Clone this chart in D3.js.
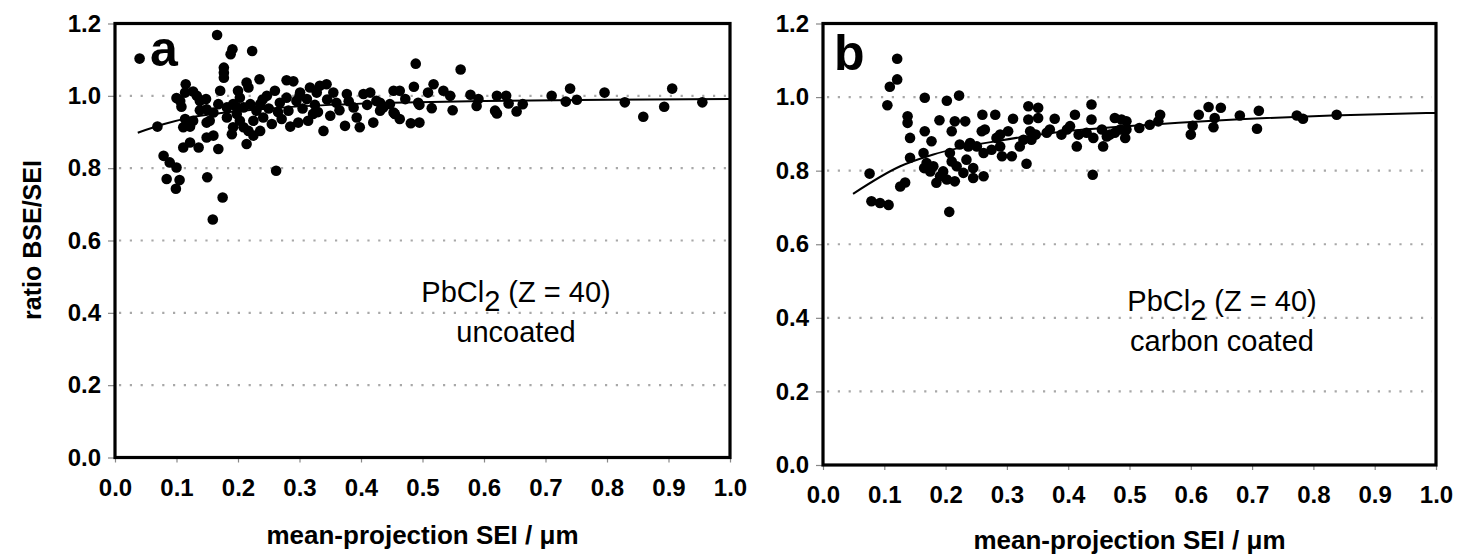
<!DOCTYPE html>
<html>
<head>
<meta charset="utf-8">
<script src="https://cdn.jsdelivr.net/npm/d3@7"></script>
<style>
  body { margin: 0; background: #fff; }
  svg { font-family: "Liberation Sans", Arial, sans-serif; }
</style>
</head>
<body>
<svg id="chart" width="1460" height="558"></svg>
<script>
// tick values shared by both panels
const xTicks = [0, 0.1, 0.2, 0.3, 0.4, 0.5, 0.6, 0.7, 0.8, 0.9, 1.0];
const yTicks = [0, 0.2, 0.4, 0.6, 0.8, 1.0, 1.2];
const gridValues = [0.2, 0.4, 0.6, 0.8, 1.0];

// panel a : uncoated PbCl2 (x = mean-projection SEI, y = BSE/SEI)
const pointsA = [
  [0.040,1.103],[0.166,1.168],[0.191,1.129],[0.188,1.115],[0.223,1.124],[0.177,1.078],[0.177,1.064],
  [0.177,1.050],[0.171,1.014],[0.115,1.032],[0.100,0.994],[0.127,1.012],[0.148,0.991],[0.108,0.970],
  [0.138,0.960],[0.069,0.915],[0.111,0.913],[0.122,0.915],[0.149,0.926],[0.111,0.857],[0.122,0.871],
  [0.136,0.857],[0.149,0.885],[0.160,0.890],[0.168,0.853],[0.168,0.977],[0.182,0.940],[0.079,0.834],
  [0.089,0.816],[0.100,0.802],[0.084,0.770],[0.105,0.767],[0.099,0.743],[0.150,0.775],[0.175,0.719],
  [0.159,0.658],[0.262,0.793],[0.214,1.037],[0.217,1.023],[0.235,1.046],[0.200,1.014],[0.203,0.995],
  [0.197,0.970],[0.214,0.867],[0.279,1.043],[0.271,0.936],[0.339,0.903],[0.374,0.917],[0.398,0.913],
  [0.420,0.926],[0.453,0.954],[0.247,1.000],[0.260,1.014],[0.268,0.981],[0.279,0.995],[0.295,0.986],
  [0.301,1.009],[0.312,0.991],[0.317,1.023],[0.328,1.009],[0.333,1.028],[0.344,1.032],[0.355,1.009],
  [0.360,0.981],[0.377,1.005],[0.388,0.968],[0.404,1.005],[0.415,1.009],[0.425,0.986],[0.436,0.968],
  [0.453,1.014],[0.455,0.950],[0.255,0.922],[0.282,0.959],[0.298,0.926],[0.314,0.931],[0.322,0.950],
  [0.350,0.945],[0.393,0.940],[0.431,0.959],[0.447,0.977],[0.192,0.977],[0.198,0.950],[0.203,0.931],
  [0.192,0.913],[0.209,0.913],[0.217,0.903],[0.225,0.931],[0.230,0.959],[0.236,0.977],[0.241,0.940],
  [0.182,0.968],[0.190,0.894],[0.225,0.890],[0.236,0.903],[0.209,0.968],[0.220,0.977],[0.106,0.986],
  [0.133,1.000],[0.114,1.009],[0.138,0.986],[0.149,0.963],[0.160,0.954],[0.154,0.931],[0.114,0.936],
  [0.127,0.931],[0.489,1.089],[0.562,1.073],[0.463,1.014],[0.486,1.025],[0.518,1.032],[0.509,1.009],
  [0.534,1.014],[0.545,1.000],[0.495,0.975],[0.515,0.966],[0.549,0.960],[0.463,0.936],[0.481,0.924],
  [0.495,0.926],[0.578,1.003],[0.591,0.991],[0.588,0.972],[0.621,1.000],[0.636,1.000],[0.640,0.979],
  [0.618,0.959],[0.621,0.951],[0.653,0.957],[0.663,0.977],[0.710,1.000],[0.740,1.020],[0.733,0.984],
  [0.751,0.989],[0.796,1.009],[0.829,0.982],[0.859,0.942],[0.893,0.970],[0.906,1.020],[0.955,0.982],
  [0.472,0.991],[0.431,0.981],[0.493,0.981],[0.290,1.040],[0.305,0.965],[0.345,0.990],[0.365,0.960],
  [0.380,0.985],[0.410,0.975],[0.265,0.955],[0.250,0.965],[0.330,0.955],[0.300,1.000],[0.240,0.990],
  [0.285,0.915],[0.325,0.975]
];
const fitA = [
  [0.037,0.898],[0.08,0.922],[0.12,0.939],[0.17,0.952],[0.25,0.965],[0.35,0.975],
  [0.45,0.981],[0.6,0.986],[0.8,0.989],[1.0,0.991]
];

// panel b : carbon coated PbCl2
const pointsB = [
  [0.121,1.104],[0.121,1.048],[0.109,1.028],[0.105,0.978],[0.076,0.792],[0.079,0.717],[0.093,0.712],
  [0.107,0.707],[0.126,0.757],[0.134,0.768],[0.138,0.948],[0.138,0.930],[0.142,0.889],[0.142,0.835],
  [0.166,0.998],[0.166,0.907],[0.164,0.848],[0.177,0.880],[0.165,0.807],[0.175,0.798],[0.185,0.767],
  [0.191,0.785],[0.202,0.776],[0.215,0.771],[0.169,0.821],[0.206,0.688],[0.202,0.990],[0.222,1.004],
  [0.190,0.937],[0.215,0.934],[0.232,0.934],[0.210,0.907],[0.223,0.871],[0.207,0.848],[0.210,0.825],
  [0.229,0.794],[0.245,0.780],[0.262,0.785],[0.245,0.807],[0.260,0.952],[0.281,0.952],[0.259,0.907],
  [0.264,0.912],[0.237,0.866],[0.251,0.866],[0.262,0.848],[0.275,0.857],[0.283,0.889],[0.289,0.898],
  [0.292,0.839],[0.308,0.839],[0.310,0.941],[0.302,0.907],[0.321,0.866],[0.327,0.884],[0.332,0.819],
  [0.335,0.975],[0.351,0.971],[0.335,0.939],[0.351,0.943],[0.338,0.907],[0.347,0.898],[0.340,0.884],
  [0.365,0.903],[0.370,0.912],[0.378,0.941],[0.389,0.898],[0.398,0.912],[0.403,0.921],[0.411,0.952],
  [0.417,0.898],[0.430,0.903],[0.441,0.889],[0.414,0.866],[0.438,0.980],[0.438,0.939],[0.440,0.789],
  [0.455,0.912],[0.457,0.866],[0.468,0.898],[0.476,0.943],[0.487,0.939],[0.495,0.912],[0.463,0.893],
  [0.485,0.912],[0.493,0.889],[0.476,0.903],[0.495,0.934],[0.516,0.916],[0.533,0.925],[0.550,0.952],
  [0.547,0.934],[0.600,0.898],[0.603,0.922],[0.613,0.952],[0.629,0.973],[0.649,0.971],[0.639,0.943],
  [0.637,0.918],[0.680,0.950],[0.711,0.963],[0.708,0.914],[0.773,0.950],[0.783,0.941],[0.838,0.952],
  [0.180,0.812],[0.196,0.798],[0.218,0.812],[0.234,0.830],[0.240,0.875],[0.289,0.866]
];
const fitB = [
  [0.049,0.737],[0.126,0.812],[0.18,0.844],[0.289,0.882],[0.398,0.907],[0.533,0.925],
  [0.83,0.950],[1.0,0.957]
];

/**
 * One scatter panel with its frame, grid, fit curve and labels
 */
function Panel(svg, opts) {
    let self = this;
    self.svg = svg;
    self.opts = opts;
    self.init();
}

Panel.prototype.init = function() {
    let self = this;
    let o = self.opts;

    self.x = d3.scaleLinear().domain([0, 1]).range([o.left, o.right]);
    self.y = d3.scaleLinear().domain([0, 1.2]).range([o.bottom, o.top]);

    self.g = self.svg.append("g");

    // dotted grid
    self.g.selectAll(".grid")
        .data(gridValues)
        .enter().append("line")
        .attr("class", "grid")
        .attr("x1", o.left + 4).attr("x2", o.right - 4)
        .attr("y1", d => self.y(d)).attr("y2", d => self.y(d))
        .attr("stroke", "#a8a8a8")
        .attr("stroke-width", 2.2)
        .attr("stroke-dasharray", "2.2 8.6");

    // axes
    let xAxis = d3.axisBottom(self.x)
        .tickValues(xTicks)
        .tickFormat(d3.format(".1f"))
        .tickSize(5)
        .tickPadding(16);
    let yAxis = d3.axisLeft(self.y)
        .tickValues(yTicks)
        .tickFormat(d3.format(".1f"))
        .tickSize(7)
        .tickPadding(7);

    let gx = self.g.append("g")
        .attr("transform", "translate(0," + o.bottom + ")")
        .call(xAxis);
    let gy = self.g.append("g")
        .attr("transform", "translate(" + o.left + ",0)")
        .call(yAxis);
    [gx, gy].forEach(function(a) {
        a.select(".domain").remove();
        a.selectAll(".tick line").attr("stroke", "#888").attr("stroke-width", 1.2);
        a.selectAll(".tick text")
            .attr("fill", "#000")
            .attr("font-size", "24px")
            .attr("font-weight", "bold")
            .attr("font-family", "Liberation Sans, Arial, sans-serif");
    });

    // fit curve
    let line = d3.line()
        .curve(d3.curveMonotoneX)
        .x(d => self.x(d[0]))
        .y(d => self.y(d[1]));
    self.g.append("path")
        .datum(o.fit)
        .attr("d", line)
        .attr("fill", "none")
        .attr("stroke", "#000")
        .attr("stroke-width", 2);

    // measured points
    self.g.selectAll(".pt")
        .data(o.points)
        .enter().append("circle")
        .attr("class", "pt")
        .attr("cx", d => self.x(d[0]))
        .attr("cy", d => self.y(d[1]))
        .attr("r", 5.3)
        .attr("fill", "#000");

    // frame
    self.g.append("rect")
        .attr("x", o.left).attr("y", o.top)
        .attr("width", o.right - o.left)
        .attr("height", o.bottom - o.top)
        .attr("fill", "none")
        .attr("stroke", "#000")
        .attr("stroke-width", 3.2);

    // panel letter
    self.g.append("text")
        .attr("x", o.letterX).attr("y", o.letterY)
        .attr("font-size", "50px")
        .attr("font-weight", "bold")
        .text(o.letter);

    // sample note
    let note = self.g.append("text")
        .attr("x", o.noteX).attr("y", o.noteY)
        .attr("font-size", "29px")
        .attr("text-anchor", "middle");
    note.append("tspan").text("PbCl");
    note.append("tspan").attr("dy", 9).text("2");
    note.append("tspan").attr("dy", -9).text(" (Z = 40)");
    self.g.append("text")
        .attr("x", o.noteX).attr("y", o.noteY + 40)
        .attr("font-size", "29px")
        .attr("text-anchor", "middle")
        .text(o.note);

    // x title
    self.g.append("text")
        .attr("x", (o.left + o.right) / 2)
        .attr("y", o.bottom + o.titleGap)
        .attr("font-size", "26px")
        .attr("font-weight", "bold")
        .attr("text-anchor", "middle")
        .text("mean-projection SEI / \u03bcm");
}

let svg = d3.select("#chart");

new Panel(svg, {
    left: 115, right: 730, top: 23.5, bottom: 457.5,
    points: pointsA, fit: fitA,
    letter: "a", letterX: 150, letterY: 66,
    note: "uncoated", noteX: 516, noteY: 302,
    titleGap: 86
});
new Panel(svg, {
    left: 823, right: 1436, top: 23.5, bottom: 465,
    points: pointsB, fit: fitB,
    letter: "b", letterX: 834, letterY: 70,
    note: "carbon coated", noteX: 1222, noteY: 311,
    titleGap: 84
});

// y title, only on the left panel
svg.append("text")
    .attr("transform", "translate(41,240) rotate(-90)")
    .attr("font-size", "25px")
    .attr("font-weight", "bold")
    .attr("text-anchor", "middle")
    .text("ratio BSE/SEI");
</script>
</body>
</html>
